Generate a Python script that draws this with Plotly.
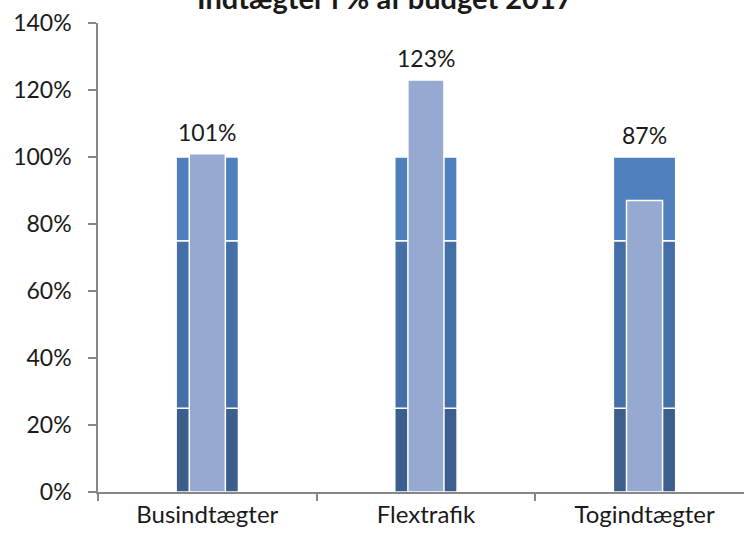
import plotly.graph_objects as go

categories = ["Busindtægter", "Flextrafik", "Togindtægter"]
actual_pct = [101, 123, 87]
band_low = [25, 25, 25]
band_mid = [50, 50, 50]
band_high = [25, 25, 25]
band_bases = [0, 25, 75]
y_ticks = [0, 20, 40, 60, 80, 100, 120, 140]
y_tick_labels = [f"{v}%" for v in y_ticks]
title_text = "Indtægter i % af budget 2017"

FONT = "Lato, Calibri, Carlito, sans-serif"
band_colors = ["#3B5E8D", "#4470A7", "#4F80BD"]
fg_color = "#95A9D1"
TXT = "#1a1a1a"

fig = go.Figure()
for seg, base, col in zip([band_low, band_mid, band_high], band_bases, band_colors):
    fig.add_trace(go.Bar(
        x=categories, y=seg, base=[base] * len(categories), width=0.285,
        marker=dict(color=col, line=dict(color="white", width=1.5)),
        hoverinfo="skip", showlegend=False,
    ))
fig.add_trace(go.Bar(
    x=categories, y=actual_pct, width=0.165,
    marker=dict(color=fg_color, line=dict(color="white", width=1.5)),
    showlegend=False,
))

band_top = [b + m + h for b, m, h in zip(band_low, band_mid, band_high)]
annotations = []
for cat, v, top in zip(categories, actual_pct, band_top):
    annotations.append(dict(
        x=cat, y=max(v, top), xref="x", yref="y", text=f"{v}%",
        xanchor="center", yanchor="bottom", yshift=6, showarrow=False,
        font=dict(family=FONT, size=23, color=TXT),
    ))
annotations.append(dict(
    text=f"<b>{title_text}</b>", xref="paper", yref="paper",
    x=(385 - 98) / 646, y=1 + (23 - 17) / 469, xanchor="center", yanchor="bottom",
    showarrow=False, font=dict(family=FONT, size=29, color=TXT),
))

fig.update_layout(
    width=744, height=541,
    margin=dict(l=98, r=0, t=23, b=49, autoexpand=False),
    barmode="overlay",
    plot_bgcolor="white", paper_bgcolor="white",
    font=dict(family=FONT, size=23, color=TXT),
    xaxis=dict(
        type="category", range=[-0.5, 2.455], automargin=False,
        showline=True, linecolor="#878787", linewidth=1.5,
        ticks="outside", tickson="boundaries", ticklen=7, tickcolor="#878787", tickwidth=1.5,
        showgrid=False, zeroline=False,
        tickfont=dict(family=FONT, size=24, color=TXT),
    ),
    yaxis=dict(
        range=[0, 140], tickvals=y_ticks, ticktext=y_tick_labels, automargin=False,
        showline=True, linecolor="#878787", linewidth=1.5,
        ticks="outside", ticklen=8, tickcolor="#878787", tickwidth=1.5,
        ticklabelstandoff=12,
        showgrid=False, zeroline=False,
        tickfont=dict(family=FONT, size=23, color=TXT),
    ),
    annotations=annotations,
)

fig.write_html("out.html", config={"displayModeBar": False},
               post_script="document.body.style.margin='0';document.body.style.padding='0';")
